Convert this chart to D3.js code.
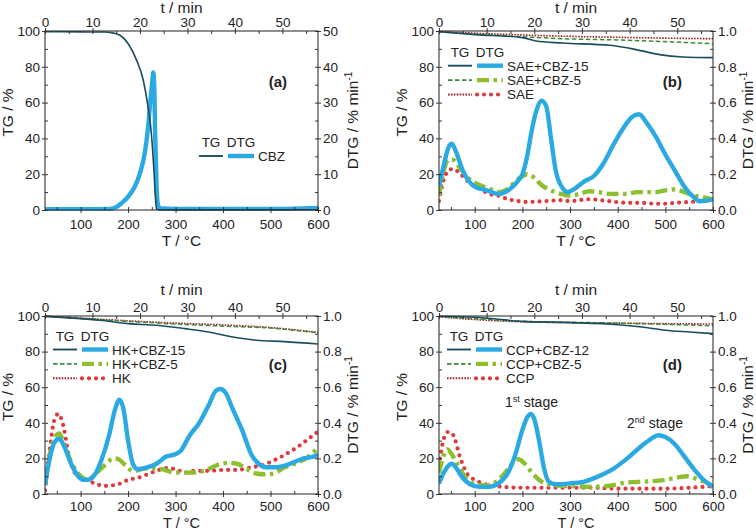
<!DOCTYPE html>
<html><head><meta charset="utf-8">
<script src="https://cdn.jsdelivr.net/npm/d3@7"></script>
<style>
html,body{margin:0;padding:0;background:#fff;}
svg{display:block;}
text{font-family:"Liberation Sans",Arial,sans-serif;fill:#222;}
</style></head>
<body>
<svg id="chart" width="756" height="531"></svg>
<script>
// ---------- DATA ----------
// Axis ticks
const tempTicks = [100, 200, 300, 400, 500, 600];
const tempMinor = [50, 150, 250, 350, 450, 550];
const timeTicks = [0, 10, 20, 30, 40, 50];
const timeMinor = [5, 15, 25, 35, 45, 55];
const tgTicks = [0, 20, 40, 60, 80, 100];
const tgMinor = [10, 30, 50, 70, 90];
const dtgTicksA = [0, 10, 20, 30, 40, 50];
const dtgMinorA = [5, 15, 25, 35, 45];
const dtgTicks = [0, 0.2, 0.4, 0.6, 0.8, 1.0];
const dtgMinor = [0.1, 0.3, 0.5, 0.7, 0.9];

// Panel (a) CBZ
const cbzTgT = [25, 100, 150, 165, 183, 200, 218, 232, 242, 249, 254, 258, 260, 264, 600];
const cbzTg  = [99.6, 99.5, 99.4, 99.1, 97.6, 93, 83.6, 72.5, 57.6, 42.8, 24, 5.6, 0.6, 0.1, 0.1];
const cbzDtgT = [25, 100, 162, 175, 186, 200, 214, 225, 235, 242, 247, 251, 253, 255, 257, 260, 263, 267, 300, 500, 600];
const cbzDtg  = [0.2, 0.2, 0.3, 0.8, 1.9, 3.7, 6.5, 10.2, 15.8, 23, 30.7, 36, 38.4, 35, 21, 6.5, 1.4, 0.5, 0.3, 0.3, 0.6];

// Panel (b) SAE
const sae15TgT = [25, 102, 200, 228, 284, 383, 439, 488, 537, 600];
const sae15Tg  = [99.6, 98, 96.3, 94.4, 93.3, 92, 89.6, 86.8, 85.5, 85.1];
const sae5TgT = [25, 100, 200, 284, 400, 466, 600];
const sae5Tg  = [99.6, 98.3, 96.8, 95.7, 95, 94.4, 92.9];
const saeTgT = [25, 100, 200, 300, 400, 500, 600];
const saeTg  = [99.8, 98.8, 97.8, 97, 96.5, 96, 95.7];
const sae15DtgT = [25, 35, 45, 52, 60, 75, 100, 125, 150, 170, 190, 200, 210, 220, 230, 240, 250, 260, 270, 285, 295, 310, 330, 350, 370, 390, 410, 430, 445, 460, 480, 500, 520, 540, 560, 570, 580, 600];
const sae15Dtg  = [0.13, 0.25, 0.35, 0.37, 0.33, 0.22, 0.13, 0.11, 0.09, 0.11, 0.16, 0.2, 0.3, 0.45, 0.56, 0.61, 0.58, 0.4, 0.22, 0.12, 0.1, 0.12, 0.16, 0.19, 0.26, 0.36, 0.45, 0.52, 0.535, 0.49, 0.41, 0.31, 0.22, 0.13, 0.07, 0.05, 0.05, 0.06];
const sae5DtgT = [25, 35, 45, 55, 70, 90, 110, 130, 150, 170, 190, 210, 225, 240, 260, 280, 300, 320, 340, 360, 380, 400, 420, 440, 460, 480, 500, 520, 540, 560, 580, 600];
const sae5Dtg  = [0.08, 0.22, 0.28, 0.28, 0.23, 0.17, 0.14, 0.12, 0.1, 0.12, 0.17, 0.2, 0.18, 0.14, 0.11, 0.09, 0.08, 0.09, 0.105, 0.1, 0.09, 0.09, 0.09, 0.1, 0.1, 0.1, 0.11, 0.115, 0.1, 0.08, 0.07, 0.06];
const saeDtgT = [25, 35, 45, 55, 70, 90, 110, 130, 150, 170, 190, 210, 250, 280, 300, 340, 380, 420, 450, 480, 500, 520, 550, 580, 600];
const saeDtg  = [0.05, 0.17, 0.22, 0.23, 0.2, 0.15, 0.12, 0.09, 0.08, 0.06, 0.05, 0.045, 0.05, 0.055, 0.05, 0.06, 0.05, 0.04, 0.04, 0.035, 0.035, 0.04, 0.045, 0.05, 0.06];

// Panel (c) HK
const hk15TgT = [25, 141, 200, 260, 320, 370, 420, 470, 530, 600];
const hk15Tg  = [99.8, 97.6, 95.7, 94.8, 92.9, 91, 88.2, 86.4, 85.6, 84.3];
const hk5TgT = [25, 100, 200, 300, 400, 500, 600];
const hk5Tg  = [99.8, 98.6, 97, 95.5, 94.3, 93.2, 90.5];
const hkTgT = [25, 100, 200, 300, 400, 500, 600];
const hkTg  = [99.8, 98.8, 97.3, 96, 95, 93.5, 90.8];
const hk15DtgT = [25, 35, 45, 55, 65, 80, 95, 105, 115, 130, 145, 160, 172, 182, 190, 200, 210, 220, 240, 260, 280, 295, 310, 330, 350, 370, 385, 395, 405, 420, 440, 460, 475, 490, 510, 530, 550, 570, 590, 600];
const hk15Dtg  = [0.05, 0.2, 0.29, 0.31, 0.27, 0.17, 0.1, 0.08, 0.08, 0.11, 0.2, 0.33, 0.47, 0.53, 0.48, 0.3, 0.17, 0.14, 0.15, 0.17, 0.21, 0.22, 0.24, 0.33, 0.4, 0.5, 0.58, 0.59, 0.57, 0.48, 0.36, 0.22, 0.17, 0.15, 0.15, 0.16, 0.18, 0.2, 0.21, 0.22];
const hk5DtgT = [25, 35, 45, 55, 65, 80, 100, 115, 130, 150, 170, 180, 195, 210, 240, 270, 300, 330, 360, 390, 410, 430, 450, 470, 490, 510, 530, 560, 580, 600];
const hk5Dtg  = [0.05, 0.22, 0.31, 0.34, 0.28, 0.18, 0.1, 0.08, 0.11, 0.16, 0.2, 0.195, 0.16, 0.13, 0.145, 0.14, 0.12, 0.12, 0.13, 0.165, 0.175, 0.17, 0.14, 0.115, 0.11, 0.12, 0.15, 0.18, 0.21, 0.26];
const hkDtgT = [25, 35, 45, 53, 62, 75, 90, 110, 130, 150, 170, 185, 200, 220, 240, 260, 280, 300, 320, 340, 370, 400, 430, 460, 480, 500, 530, 560, 580, 600];
const hkDtg  = [0.02, 0.25, 0.42, 0.45, 0.4, 0.22, 0.11, 0.08, 0.06, 0.045, 0.05, 0.06, 0.08, 0.09, 0.11, 0.13, 0.145, 0.14, 0.12, 0.13, 0.13, 0.135, 0.135, 0.15, 0.16, 0.18, 0.22, 0.27, 0.31, 0.35];

// Panel (d) CCP
const ccp12TgT = [25, 100, 200, 300, 400, 450, 500, 550, 600];
const ccp12Tg  = [99.9, 99.3, 97, 96.3, 95.1, 93.8, 92, 91, 90.1];
const ccp5TgT = [25, 100, 200, 300, 400, 500, 600];
const ccp5Tg  = [99.7, 98.5, 97, 96.5, 96, 95.3, 94.5];
const ccpTgT = [25, 100, 200, 300, 400, 500, 600];
const ccpTg  = [99.6, 98, 96.7, 96.3, 96, 95.7, 95.5];
const ccp12DtgT = [25, 35, 45, 52, 60, 75, 90, 110, 130, 150, 170, 185, 200, 210, 218, 225, 235, 245, 255, 270, 300, 330, 360, 390, 420, 450, 470, 485, 500, 520, 540, 560, 580, 600];
const ccp12Dtg  = [0.06, 0.12, 0.16, 0.17, 0.15, 0.09, 0.055, 0.04, 0.04, 0.06, 0.12, 0.22, 0.36, 0.43, 0.45, 0.42, 0.3, 0.15, 0.07, 0.055, 0.06, 0.07, 0.1, 0.14, 0.2, 0.27, 0.31, 0.33, 0.32, 0.28, 0.21, 0.14, 0.08, 0.04];
const ccp5DtgT = [25, 35, 43, 50, 65, 85, 110, 130, 150, 170, 185, 192, 205, 220, 240, 260, 300, 340, 380, 420, 460, 500, 530, 545, 570, 590, 600];
const ccp5Dtg  = [0.12, 0.22, 0.25, 0.23, 0.16, 0.08, 0.05, 0.05, 0.08, 0.14, 0.19, 0.195, 0.17, 0.12, 0.07, 0.05, 0.045, 0.04, 0.045, 0.065, 0.07, 0.08, 0.095, 0.1, 0.08, 0.06, 0.04];
const ccpDtgT = [25, 35, 45, 55, 70, 85, 100, 130, 160, 200, 250, 300, 350, 400, 450, 500, 550, 580, 600];
const ccpDtg  = [0.16, 0.31, 0.35, 0.33, 0.2, 0.11, 0.08, 0.05, 0.04, 0.035, 0.035, 0.035, 0.035, 0.03, 0.03, 0.03, 0.035, 0.04, 0.045];

// Series labels
const labelsA = ["CBZ"];
const labelsB = ["SAE+CBZ-15", "SAE+CBZ-5", "SAE"];
const labelsC = ["HK+CBZ-15", "HK+CBZ-5", "HK"];
const labelsD = ["CCP+CBZ-12", "CCP+CBZ-5", "CCP"];

// ---------- STYLES ----------
const STY = {
  tg0:  {stroke:"#1c4d5e", width:1.6, dash:null, cap:"butt"},
  tg1:  {stroke:"#3b8a3b", width:1.5, dash:"4.5,2.5", cap:"butt"},
  tg2:  {stroke:"#a31f24", width:1.6, dash:"1.6,1.3", cap:"butt"},
  dtg0: {stroke:"#2ba9e2", width:4.4, dash:null, cap:"butt"},
  dtg1: {stroke:"#8dbf2f", width:4.4, dash:"12,4.5,3.5,4.5", cap:"butt"},
  dtg2: {stroke:"#e0393d", width:4.2, dash:"0,7", cap:"round"}
};

const svg = d3.select("#chart");
const zip = (xs, ys) => xs.map((x, i) => [x, ys[i]]);

function drawPanel(p) {
  const w = p.x1 - p.x0, h = p.y1 - p.y0;
  const g = svg.append("g").attr("transform", `translate(${p.x0},${p.y0})`);
  const x = d3.scaleLinear().domain([25, 600]).range([0, w]);
  const xt = d3.scaleLinear().domain([0, 57.5]).range([0, w]);
  const yL = d3.scaleLinear().domain([0, 100]).range([h, 0]);
  const yR = d3.scaleLinear().domain([0, p.rmax]).range([h, 0]);

  const clip = "clip" + p.id;
  g.append("clipPath").attr("id", clip).append("rect").attr("x", 0).attr("y", -1).attr("width", w).attr("height", h + 2);
  const plot = g.append("g").attr("clip-path", `url(#${clip})`);

  const lineL = d3.line().x(d => x(d[0])).y(d => yL(d[1])).curve(d3.curveMonotoneX);
  const lineR = d3.line().x(d => x(d[0])).y(d => yR(d[1])).curve(d3.curveMonotoneX);

  function path(sel, data, gen, s) {
    sel.append("path").datum(data).attr("d", gen).attr("fill", "none")
      .attr("stroke", s.stroke).attr("stroke-width", s.width)
      .attr("stroke-dasharray", s.dash).attr("stroke-linecap", s.cap)
      .attr("stroke-linejoin", "round");
  }
  for (let i = p.dtg.length - 1; i >= 0; i--) path(plot, p.dtg[i], lineR, STY["dtg" + i]);
  for (let i = p.tg.length - 1; i >= 0; i--) path(plot, p.tg[i], lineL, STY["tg" + i]);

  const fs = 13.5;
  function styleAxis(a) {
    a.select(".domain").remove();
    a.selectAll(".tick text").attr("font-size", fs).attr("fill", "#222")
      .attr("font-family", '"Liberation Sans",Arial,sans-serif');
    a.selectAll(".tick line").attr("stroke", "#333");
  }
  // Bottom
  const ab = g.append("g").attr("transform", `translate(0,${h})`)
    .call(d3.axisBottom(x).tickValues(tempTicks).tickSizeInner(3).tickSizeOuter(0).tickPadding(p.botPad));
  styleAxis(ab); ab.selectAll(".tick line").attr("y1", -3).attr("y2", 3);
  const abm = g.append("g").attr("transform", `translate(0,${h})`)
    .call(d3.axisBottom(x).tickValues(tempMinor).tickSize(-3).tickFormat(""));
  styleAxis(abm);
  // Top
  const at = g.append("g")
    .call(d3.axisTop(xt).tickValues(timeTicks).tickSizeInner(3).tickSizeOuter(0).tickPadding(1));
  styleAxis(at); at.selectAll(".tick line").attr("y1", -3).attr("y2", 3);
  const atm = g.append("g").call(d3.axisTop(xt).tickValues(timeMinor).tickSize(-3).tickFormat(""));
  styleAxis(atm);
  // Left
  const al = g.append("g")
    .call(d3.axisLeft(yL).tickValues(tgTicks).tickSizeInner(3).tickSizeOuter(0).tickPadding(2));
  styleAxis(al); al.selectAll(".tick line").attr("x1", -3).attr("x2", 3);
  const alm = g.append("g").call(d3.axisLeft(yL).tickValues(tgMinor).tickSize(-3).tickFormat(""));
  styleAxis(alm);
  // Right
  const ar = g.append("g").attr("transform", `translate(${w},0)`)
    .call(d3.axisRight(yR).tickValues(p.rTicks).tickSizeInner(3).tickSizeOuter(0).tickPadding(2)
      .tickFormat(p.rmax > 2 ? d3.format("d") : d3.format(".1f")));
  styleAxis(ar); ar.selectAll(".tick line").attr("x1", -3).attr("x2", 3);
  const arm = g.append("g").attr("transform", `translate(${w},0)`)
    .call(d3.axisRight(yR).tickValues(p.rMinor).tickSize(-3).tickFormat(""));
  styleAxis(arm);

  // Frame
  g.append("rect").attr("width", w).attr("height", h).attr("fill", "none").attr("stroke", "#333").attr("stroke-width", 1.1);

  // Axis titles
  const tfs = 15.5;
  g.append("text").attr("x", w / 2).attr("y", p.topTitleY).attr("text-anchor", "middle").attr("font-size", tfs)
    .text("t / min");
  g.append("text").attr("x", w / 2).attr("y", h + p.botTitleDy).attr("text-anchor", "middle").attr("font-size", p.botTitleFs)
    .text("T / °C");
  g.append("text").attr("transform", `translate(-32,${h / 2 - 8}) rotate(-90)`).attr("text-anchor", "middle")
    .attr("font-size", tfs).text("TG / %");
  const rt = g.append("text").attr("transform", `translate(${w + 40},${h / 2}) rotate(-90)`).attr("text-anchor", "middle")
    .attr("font-size", tfs);
  rt.append("tspan").text("DTG / % min");
  rt.append("tspan").attr("font-size", 10).attr("dy", -6).text("-1");

  // Panel letter
  g.append("text").attr("x", w - 31).attr("y", p.letterY).attr("text-anchor", "end")
    .attr("font-family", '"DejaVu Sans",Verdana,sans-serif').attr("font-weight", "bold").attr("font-size", 15)
    .text(p.letter);

  // Legend
  const L = p.leg;
  const lg = g.append("g").attr("transform", `translate(${L.x},${L.y})`);
  lg.append("text").attr("x", 8).attr("y", 0).attr("text-anchor", "middle").attr("font-size", fs).text("TG");
  lg.append("text").attr("x", 38).attr("y", 0).attr("text-anchor", "middle").attr("font-size", fs).text("DTG");
  p.labels.forEach((lab, i) => {
    const yy = 9 + i * 14.4;
    const s1 = STY["tg" + i], s2 = STY["dtg" + i];
    lg.append("line").attr("x1", -4).attr("x2", 20).attr("y1", yy).attr("y2", yy)
      .attr("stroke", s1.stroke).attr("stroke-width", s1.width + 0.3).attr("stroke-dasharray", s1.dash);
    lg.append("line").attr("x1", 25).attr("x2", 51).attr("y1", yy).attr("y2", yy)
      .attr("stroke", s2.stroke).attr("stroke-width", s2.width).attr("stroke-dasharray", s2.dash)
      .attr("stroke-linecap", s2.cap);
    lg.append("text").attr("x", 55).attr("y", yy + 5).attr("font-size", fs).text(lab);
  });

  if (p.extra) p.extra(g, x, yR);
}

const panels = [
  {id: "a", x0: 45, x1: 318, y0: 31, y1: 210, rmax: 50, rTicks: dtgTicksA, rMinor: dtgMinorA,
   letter: "(a)", letterY: 56, labels: labelsA, leg: {x: 158, y: 116}, topTitleY: -18,
   botPad: 6, botTitleDy: 36, botTitleFs: 15.5,
   tg: [zip(cbzTgT, cbzTg)], dtg: [zip(cbzDtgT, cbzDtg)]},
  {id: "b", x0: 439, x1: 713, y0: 31, y1: 210, rmax: 1.0, rTicks: dtgTicks, rMinor: dtgMinor,
   letter: "(b)", letterY: 56, labels: labelsB, leg: {x: 13, y: 25.7}, topTitleY: -18,
   botPad: 6, botTitleDy: 36, botTitleFs: 15.5,
   tg: [zip(sae15TgT, sae15Tg), zip(sae5TgT, sae5Tg), zip(saeTgT, saeTg)],
   dtg: [zip(sae15DtgT, sae15Dtg), zip(sae5DtgT, sae5Dtg), zip(saeDtgT, saeDtg)]},
  {id: "c", x0: 45, x1: 318, y0: 316, y1: 494, rmax: 1.0, rTicks: dtgTicks, rMinor: dtgMinor,
   letter: "(c)", letterY: 54, labels: labelsC, leg: {x: 12, y: 24.5}, topTitleY: -21,
   botPad: 4, botTitleDy: 34, botTitleFs: 14.5,
   tg: [zip(hk15TgT, hk15Tg), zip(hk5TgT, hk5Tg), zip(hkTgT, hkTg)],
   dtg: [zip(hk15DtgT, hk15Dtg), zip(hk5DtgT, hk5Dtg), zip(hkDtgT, hkDtg)]},
  {id: "d", x0: 439, x1: 713, y0: 316, y1: 494, rmax: 1.0, rTicks: dtgTicks, rMinor: dtgMinor,
   letter: "(d)", letterY: 54, labels: labelsD, leg: {x: 12, y: 24.5}, topTitleY: -21,
   botPad: 4, botTitleDy: 34, botTitleFs: 14.5,
   tg: [zip(ccp12TgT, ccp12Tg), zip(ccp5TgT, ccp5Tg), zip(ccpTgT, ccpTg)],
   dtg: [zip(ccp12DtgT, ccp12Dtg), zip(ccp5DtgT, ccp5Dtg), zip(ccpDtgT, ccpDtg)],
   extra: (g) => {
     const f = '"DejaVu Sans",Verdana,sans-serif';
     const t1 = g.append("text").attr("x", 66).attr("y", 91).attr("font-family", f).attr("font-size", 14);
     t1.append("tspan").text("1");
     t1.append("tspan").attr("font-size", 9).attr("dy", -5).text("st");
     t1.append("tspan").attr("dy", 5).text(" stage");
     const t2 = g.append("text").attr("x", 188).attr("y", 112).attr("font-family", f).attr("font-size", 14);
     t2.append("tspan").text("2");
     t2.append("tspan").attr("font-size", 9).attr("dy", -5).text("nd");
     t2.append("tspan").attr("dy", 5).text(" stage");
   }}
];

panels.forEach(drawPanel);
</script>
</body></html>
